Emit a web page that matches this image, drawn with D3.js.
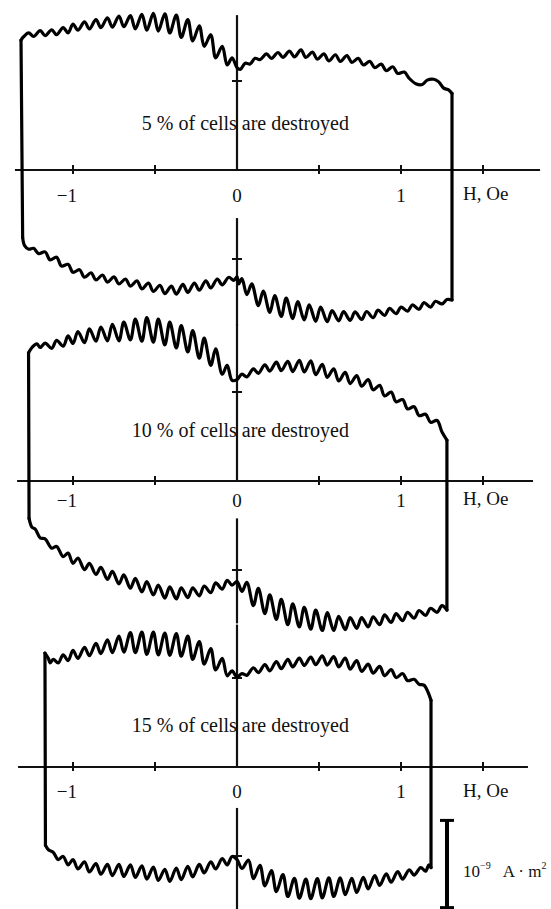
<!DOCTYPE html>
<html>
<head>
<meta charset="utf-8">
<script src="https://cdn.jsdelivr.net/npm/d3@7"></script>
<style>
  body { margin: 0; background: #fff; }
  svg { display: block; }
  text { font-family: "Liberation Serif", "Times New Roman", serif; fill: #111; }
</style>
</head>
<body>
<svg id="chart"></svg>
<script>

// H in Oe, M in units of 10^-9 A·m^2
const panelLabels = ["5 % of cells are destroyed", "10 % of cells are destroyed", "15 % of cells are destroyed"]
const tickValues = [-1, -0.5, 0.5, 1, 1.5]
const tickLabels = [[-1, "\u22121"], [0, "0"], [1, "1"]]
const axisTitle = "H, Oe"

const loop5Upper = [[-1.317,1.46],[-1.30,1.50],[-1.27,1.54],[-1.24,1.50],[-1.20,1.565],[-1.17,1.51],[-1.13,1.575],[-1.10,1.52],[-1.06,1.60],[-1.03,1.54],[-1.00,1.64],[-0.97,1.57],[-0.93,1.665],[-0.90,1.585],[-0.86,1.69],[-0.83,1.60],[-0.79,1.71],[-0.76,1.605],[-0.72,1.73],[-0.69,1.61],[-0.65,1.735],[-0.62,1.585],[-0.58,1.75],[-0.55,1.57],[-0.51,1.76],[-0.48,1.56],[-0.44,1.755],[-0.41,1.54],[-0.37,1.74],[-0.34,1.49],[-0.30,1.69],[-0.27,1.45],[-0.23,1.62],[-0.20,1.39],[-0.16,1.52],[-0.13,1.26],[-0.09,1.39],[-0.06,1.18],[-0.03,1.26],[0.00,1.15],[0.02,1.13],[0.05,1.20],[0.08,1.19],[0.11,1.255],[0.14,1.24],[0.18,1.305],[0.21,1.255],[0.25,1.32],[0.28,1.265],[0.32,1.335],[0.35,1.27],[0.39,1.35],[0.42,1.265],[0.46,1.325],[0.49,1.245],[0.53,1.305],[0.56,1.225],[0.60,1.295],[0.63,1.22],[0.67,1.285],[0.70,1.21],[0.74,1.255],[0.77,1.18],[0.81,1.22],[0.84,1.15],[0.88,1.19],[0.91,1.115],[0.95,1.16],[0.98,1.085],[1.02,1.10],[1.05,1.03],[1.09,0.97],[1.13,0.96],[1.16,1.01],[1.20,1.02],[1.23,0.99],[1.26,0.92],[1.29,0.90],[1.311,0.86]]
const loop5Lower = [[1.311,-1.46],[1.28,-1.455],[1.25,-1.505],[1.21,-1.475],[1.18,-1.54],[1.14,-1.49],[1.11,-1.565],[1.07,-1.515],[1.04,-1.585],[1.00,-1.54],[0.97,-1.615],[0.93,-1.555],[0.90,-1.635],[0.86,-1.575],[0.83,-1.66],[0.79,-1.59],[0.76,-1.68],[0.72,-1.595],[0.69,-1.69],[0.65,-1.59],[0.62,-1.695],[0.58,-1.58],[0.55,-1.705],[0.51,-1.54],[0.48,-1.70],[0.44,-1.515],[0.41,-1.685],[0.37,-1.48],[0.34,-1.67],[0.30,-1.44],[0.27,-1.645],[0.23,-1.41],[0.20,-1.60],[0.16,-1.36],[0.13,-1.525],[0.09,-1.28],[0.06,-1.40],[0.03,-1.22],[0.01,-1.28],[0.00,-1.20],[-0.02,-1.24],[-0.05,-1.205],[-0.09,-1.29],[-0.12,-1.225],[-0.16,-1.325],[-0.19,-1.245],[-0.23,-1.35],[-0.26,-1.27],[-0.30,-1.375],[-0.33,-1.285],[-0.37,-1.395],[-0.40,-1.305],[-0.44,-1.39],[-0.47,-1.295],[-0.51,-1.365],[-0.54,-1.27],[-0.58,-1.335],[-0.61,-1.245],[-0.65,-1.305],[-0.68,-1.225],[-0.72,-1.28],[-0.75,-1.20],[-0.79,-1.26],[-0.82,-1.18],[-0.86,-1.235],[-0.89,-1.155],[-0.93,-1.205],[-0.96,-1.12],[-1.00,-1.15],[-1.03,-1.06],[-1.07,-1.08],[-1.10,-0.98],[-1.14,-1.01],[-1.17,-0.92],[-1.21,-0.94],[-1.24,-0.88],[-1.27,-0.89],[-1.295,-0.85],[-1.307,-0.76]]

const loop10Upper = [[-1.271,1.44],[-1.25,1.50],[-1.22,1.54],[-1.20,1.50],[-1.17,1.55],[-1.13,1.49],[-1.10,1.58],[-1.06,1.515],[-1.03,1.63],[-1.00,1.545],[-0.97,1.68],[-0.93,1.555],[-0.90,1.71],[-0.86,1.57],[-0.83,1.73],[-0.79,1.575],[-0.76,1.76],[-0.72,1.575],[-0.69,1.785],[-0.65,1.585],[-0.62,1.82],[-0.58,1.57],[-0.55,1.835],[-0.51,1.56],[-0.48,1.82],[-0.44,1.53],[-0.41,1.785],[-0.37,1.495],[-0.34,1.745],[-0.30,1.45],[-0.27,1.69],[-0.23,1.38],[-0.20,1.605],[-0.16,1.30],[-0.13,1.485],[-0.09,1.20],[-0.06,1.30],[-0.03,1.13],[0.00,1.14],[0.03,1.20],[0.06,1.17],[0.10,1.26],[0.13,1.21],[0.17,1.305],[0.20,1.235],[0.24,1.335],[0.27,1.24],[0.31,1.345],[0.34,1.23],[0.38,1.355],[0.41,1.225],[0.45,1.35],[0.48,1.195],[0.52,1.31],[0.55,1.165],[0.59,1.26],[0.62,1.125],[0.66,1.22],[0.69,1.095],[0.73,1.185],[0.76,1.065],[0.80,1.14],[0.83,1.025],[0.87,1.075],[0.90,0.955],[0.94,1.00],[0.97,0.89],[1.01,0.915],[1.04,0.81],[1.08,0.835],[1.11,0.735],[1.15,0.75],[1.18,0.66],[1.22,0.68],[1.25,0.55],[1.28,0.46]]
const loop10Lower = [[1.28,-1.45],[1.25,-1.40],[1.22,-1.475],[1.18,-1.43],[1.15,-1.51],[1.11,-1.455],[1.08,-1.54],[1.04,-1.475],[1.01,-1.57],[0.97,-1.49],[0.94,-1.59],[0.90,-1.505],[0.87,-1.615],[0.83,-1.525],[0.80,-1.64],[0.76,-1.535],[0.73,-1.655],[0.69,-1.535],[0.66,-1.67],[0.62,-1.52],[0.59,-1.68],[0.55,-1.48],[0.52,-1.68],[0.48,-1.45],[0.45,-1.665],[0.41,-1.42],[0.38,-1.64],[0.34,-1.38],[0.31,-1.615],[0.27,-1.33],[0.24,-1.555],[0.20,-1.28],[0.17,-1.49],[0.13,-1.205],[0.10,-1.40],[0.06,-1.14],[0.03,-1.24],[0.00,-1.13],[-0.03,-1.17],[-0.06,-1.115],[-0.09,-1.215],[-0.13,-1.145],[-0.16,-1.255],[-0.20,-1.18],[-0.23,-1.29],[-0.27,-1.20],[-0.30,-1.31],[-0.34,-1.20],[-0.37,-1.325],[-0.41,-1.19],[-0.44,-1.315],[-0.48,-1.17],[-0.51,-1.28],[-0.55,-1.13],[-0.58,-1.245],[-0.62,-1.095],[-0.65,-1.205],[-0.69,-1.055],[-0.72,-1.155],[-0.76,-1.015],[-0.79,-1.105],[-0.83,-0.97],[-0.86,-1.05],[-0.90,-0.925],[-0.93,-0.995],[-0.97,-0.865],[-1.00,-0.925],[-1.03,-0.81],[-1.06,-0.85],[-1.10,-0.735],[-1.13,-0.755],[-1.17,-0.65],[-1.20,-0.64],[-1.23,-0.54],[-1.25,-0.52],[-1.268,-0.42]]

const loop15Upper = [[-1.171,1.28],[-1.15,1.22],[-1.14,1.17],[-1.12,1.21],[-1.09,1.17],[-1.06,1.26],[-1.03,1.195],[-1.00,1.31],[-0.97,1.22],[-0.93,1.345],[-0.90,1.25],[-0.86,1.39],[-0.83,1.275],[-0.79,1.43],[-0.76,1.285],[-0.72,1.47],[-0.69,1.29],[-0.65,1.51],[-0.62,1.285],[-0.58,1.515],[-0.55,1.265],[-0.51,1.515],[-0.48,1.26],[-0.44,1.505],[-0.41,1.255],[-0.37,1.50],[-0.34,1.245],[-0.30,1.47],[-0.27,1.21],[-0.23,1.41],[-0.20,1.155],[-0.16,1.33],[-0.13,1.09],[-0.09,1.22],[-0.06,1.025],[-0.03,1.08],[0.00,1.01],[0.03,1.05],[0.06,1.03],[0.10,1.115],[0.13,1.06],[0.17,1.15],[0.20,1.08],[0.24,1.185],[0.27,1.105],[0.31,1.21],[0.34,1.125],[0.38,1.225],[0.41,1.14],[0.45,1.235],[0.48,1.15],[0.52,1.25],[0.55,1.145],[0.59,1.24],[0.62,1.125],[0.66,1.225],[0.69,1.10],[0.73,1.195],[0.76,1.075],[0.80,1.155],[0.83,1.055],[0.87,1.13],[0.90,1.025],[0.94,1.095],[0.97,1.005],[1.01,1.05],[1.04,0.97],[1.08,0.985],[1.11,0.93],[1.14,0.92],[1.165,0.84],[1.183,0.75]]
const loop15Lower = [[1.183,-1.13],[1.17,-1.10],[1.15,-1.17],[1.12,-1.13],[1.08,-1.215],[1.05,-1.155],[1.01,-1.26],[0.98,-1.175],[0.94,-1.295],[0.91,-1.20],[0.87,-1.33],[0.84,-1.22],[0.80,-1.37],[0.77,-1.24],[0.73,-1.41],[0.70,-1.25],[0.66,-1.435],[0.63,-1.245],[0.59,-1.455],[0.56,-1.245],[0.52,-1.47],[0.49,-1.255],[0.45,-1.48],[0.42,-1.26],[0.38,-1.475],[0.35,-1.25],[0.31,-1.455],[0.28,-1.21],[0.24,-1.40],[0.21,-1.165],[0.17,-1.335],[0.14,-1.105],[0.10,-1.255],[0.07,-1.045],[0.03,-1.14],[0.00,-1.04],[-0.03,-1.005],[-0.06,-1.10],[-0.09,-1.03],[-0.13,-1.145],[-0.16,-1.065],[-0.20,-1.19],[-0.23,-1.095],[-0.27,-1.235],[-0.30,-1.115],[-0.34,-1.265],[-0.37,-1.135],[-0.41,-1.285],[-0.44,-1.15],[-0.48,-1.275],[-0.51,-1.125],[-0.55,-1.26],[-0.58,-1.11],[-0.62,-1.24],[-0.65,-1.10],[-0.69,-1.23],[-0.72,-1.095],[-0.76,-1.22],[-0.79,-1.095],[-0.83,-1.205],[-0.86,-1.085],[-0.90,-1.18],[-0.93,-1.065],[-0.97,-1.145],[-1.00,-1.04],[-1.03,-1.10],[-1.06,-1.005],[-1.09,-1.04],[-1.12,-0.96],[-1.15,-0.93],[-1.168,-0.88]]


const width = 551
const height = 909
const unitY = 89

const svg = d3.select("#chart")
    .attr("width", width)
    .attr("height", height)

svg.append("rect").attr("width", width).attr("height", height).attr("fill", "#fff")

const x = d3.scaleLinear().domain([0, 1]).range([237, 401])

// layout of the three stacked plots
const panels = [
    {label: panelLabels[0], upper: loop5Upper, lower: loop5Lower, axisY: 170, hRange: [-1.354, 1.848],
        vTop: 1.74, vBottom: -1.75, gapBelow: -0.54, textDy: -40, tickDy: 32, titleDy: 30},
    {label: panelLabels[1], upper: loop10Upper, lower: loop10Lower, axisY: 481, hRange: [-1.341, 1.805],
        vTop: 1.76, vBottom: -1.6, gapBelow: -0.42, textDy: -44, tickDy: 26, titleDy: 24},
    {label: panelLabels[2], upper: loop15Upper, lower: loop15Lower, axisY: 767, hRange: [-1.335, 1.774],
        vTop: 1.6, vBottom: -1.65, gapBelow: -0.46, textDy: -35, tickDy: 31, titleDy: 30}
]

panels.forEach((p, i) => {
    const y = d3.scaleLinear().domain([0, 1]).range([p.axisY, p.axisY - unitY])
    const g = svg.append("g")

    // text first so the axis line crosses it, like in the scan
    g.append("text")
        .attr("x", 349)
        .attr("y", p.axisY + p.textDy)
        .attr("text-anchor", "end")
        .attr("font-size", 20)
        .text(p.label)

    // horizontal axis
    g.append("line")
        .attr("x1", x(p.hRange[0])).attr("x2", x(p.hRange[1]))
        .attr("y1", y(0)).attr("y2", y(0))
        .attr("stroke", "#111").attr("stroke-width", 2.2)

    g.selectAll(".tick")
        .data(tickValues)
        .enter()
        .append("line")
        .attr("x1", d => x(d)).attr("x2", d => x(d))
        .attr("y1", y(0) - 5).attr("y2", y(0) + 4)
        .attr("stroke", "#111").attr("stroke-width", 2)

    g.selectAll(".ticklabel")
        .data(tickLabels)
        .enter()
        .append("text")
        .attr("x", d => d[0] < 0 ? x(d[0]) + 4 : x(d[0]))
        .attr("y", y(0) + p.tickDy)
        .attr("text-anchor", d => d[0] < 0 ? "end" : "middle")
        .attr("font-size", 19)
        .text(d => d[1])

    g.append("text")
        .attr("x", 463)
        .attr("y", y(0) + p.titleDy)
        .attr("font-size", 19)
        .text(axisTitle)

    // vertical axis, broken around the "0" label
    g.append("line")
        .attr("x1", x(0)).attr("x2", x(0))
        .attr("y1", y(p.vTop)).attr("y2", y(0))
        .attr("stroke", "#111").attr("stroke-width", 2.2)
    g.append("line")
        .attr("x1", x(0)).attr("x2", x(0))
        .attr("y1", y(p.gapBelow)).attr("y2", y(p.vBottom))
        .attr("stroke", "#111").attr("stroke-width", 2.2)

    g.selectAll(".mtick")
        .data([1, -1])
        .enter()
        .append("line")
        .attr("x1", x(0) - 5).attr("x2", x(0) + 5)
        .attr("y1", d => y(d)).attr("y2", d => y(d))
        .attr("stroke", "#111").attr("stroke-width", 2)

    // the two branches get smoothed, the jumps between them stay straight
    const smooth = d3.line()
        .x(d => x(d[0]))
        .y(d => y(d[1]))
        .curve(d3.curveCatmullRom.alpha(0.5))
    const straight = d3.line()
        .x(d => x(d[0]))
        .y(d => y(d[1]))

    const up = p.upper, lo = p.lower
    const traces = [
        {d: smooth(up)},
        {d: smooth(lo)},
        {d: straight([up[up.length - 1], lo[0]])},
        {d: straight([lo[lo.length - 1], up[0]])}
    ]

    g.selectAll(".trace")
        .data(traces)
        .enter()
        .append("path")
        .attr("d", d => d.d)
        .attr("fill", "none")
        .attr("stroke", "#000")
        .attr("stroke-width", 3.2)
        .attr("stroke-linejoin", "round")
        .attr("stroke-linecap", "round")

    // scale bar under the last plot
    if (i === 2) {
        const barX = 447
        const b0 = y(-0.6), b1 = y(-1.58)
        g.append("line")
            .attr("x1", barX).attr("x2", barX).attr("y1", b0).attr("y2", b1)
            .attr("stroke", "#000").attr("stroke-width", 4)
        g.selectAll(".cap")
            .data([b0, b1])
            .enter()
            .append("line")
            .attr("x1", barX - 7).attr("x2", barX + 7)
            .attr("y1", d => d).attr("y2", d => d)
            .attr("stroke", "#000").attr("stroke-width", 3)

        const t = g.append("text")
            .attr("x", 463)
            .attr("y", y(-1.24))
            .attr("font-size", 17)
        t.append("tspan").text("10")
        t.append("tspan").attr("dy", -8).attr("font-size", 10).text("\u22129")
        t.append("tspan").attr("dy", 8).attr("dx", 12).text("A \u00b7 m")
        t.append("tspan").attr("dy", -8).attr("font-size", 10).text("2")
    }
})

</script>
</body>
</html>
